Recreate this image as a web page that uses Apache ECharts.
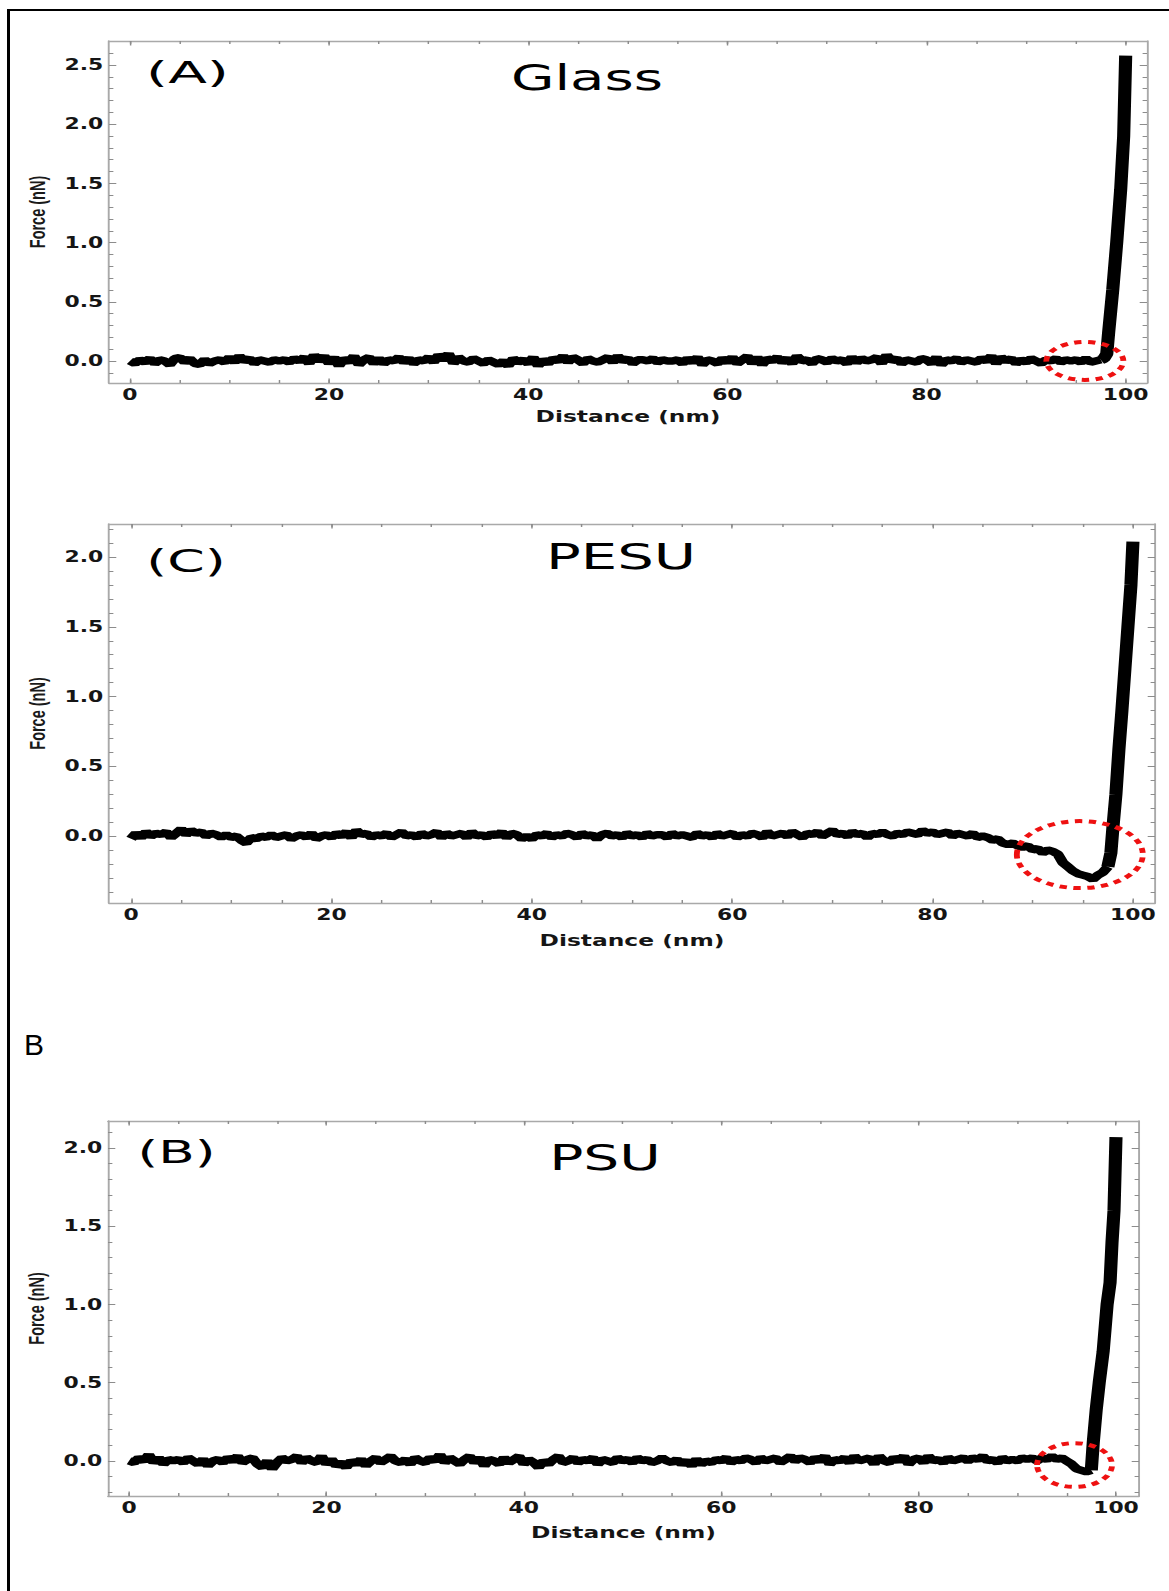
<!DOCTYPE html>
<html><head><meta charset="utf-8">
<script src="https://cdn.jsdelivr.net/npm/echarts@6/dist/echarts.min.js"></script>
<style>
html,body{margin:0;padding:0;background:#fff;width:1169px;height:1591px;overflow:hidden;position:relative;}
#frame{position:absolute;left:7px;top:9px;width:1162px;height:1582px;border-left:3px solid #000;border-top:2px solid #000;box-sizing:border-box;}
#blabel{position:absolute;left:24px;top:1028px;font:30px "Liberation Sans",Arial,sans-serif;color:#000;}
#chart{position:absolute;left:0;top:0;width:801px;height:1591px;transform:scaleX(1.4594);transform-origin:0 0;}
</style></head>
<body>
<div id="frame"></div>
<div id="blabel">B</div>
<div id="chart"></div>
<script>
// ---------------- DATA ----------------
const panelLabels = ['(A)', '(C)', '(B)'];
const panelTitles = ['Glass', 'PESU', 'PSU'];
const xName = 'Distance (nm)';
const yName = 'Force (nN)';

const xMajorTicks = [0, 20, 40, 60, 80, 100];
const xMinorTicks = [0, 5, 10, 15, 20, 25, 30, 35, 40, 45, 50, 55, 60, 65, 70, 75, 80, 85, 90, 95, 100];

const yMajorA = [0.0, 0.5, 1.0, 1.5, 2.0, 2.5];
const yMinorA = [-0.1, 0.0, 0.1, 0.2, 0.3, 0.4, 0.5, 0.6, 0.7, 0.8, 0.9, 1.0, 1.1, 1.2, 1.3, 1.4, 1.5, 1.6, 1.7, 1.8, 1.9, 2.0, 2.1, 2.2, 2.3, 2.4, 2.5, 2.6];
const yMajorC = [0.0, 0.5, 1.0, 1.5, 2.0];
const yMinorC = [-0.4, -0.3, -0.2, -0.1, 0.0, 0.1, 0.2, 0.3, 0.4, 0.5, 0.6, 0.7, 0.8, 0.9, 1.0, 1.1, 1.2, 1.3, 1.4, 1.5, 1.6, 1.7, 1.8, 1.9, 2.0, 2.1, 2.2];
const yMajorB = [0.0, 0.5, 1.0, 1.5, 2.0];
const yMinorB = [-0.2, -0.1, 0.0, 0.1, 0.2, 0.3, 0.4, 0.5, 0.6, 0.7, 0.8, 0.9, 1.0, 1.1, 1.2, 1.3, 1.4, 1.5, 1.6, 1.7, 1.8, 1.9, 2.0, 2.1];

// axis ranges [min, max]
const xRangeA = [-2.1, 102.14], yRangeA = [-0.186, 2.703];
const xRangeC = [-2.2, 102.2],  yRangeC = [-0.48, 2.237];
const xRangeB = [-2.13, 102.33], yRangeB = [-0.224, 2.173];

// baseline force samples, every 0.5 nm starting at 0 nm
const sampleStep = 0.5;
const glassBaseline = [
 0.00,-0.02,0.01,-0.01,0.02,-0.02,0.01,0.00,-0.03,0.02,
 0.03,-0.01,0.02,-0.02,-0.03,0.01,-0.02,0.00,0.01,-0.01,
 0.03,-0.01,0.04,0.00,0.02,-0.02,0.01,0.00,-0.01,0.01,
 0.00,0.01,-0.01,0.02,0.00,0.03,-0.02,0.05,0.00,0.04,
 -0.02,0.03,-0.04,0.02,-0.01,0.04,-0.03,0.01,0.03,-0.02,
 0.02,-0.02,0.01,0.00,0.03,-0.01,0.02,-0.02,0.01,0.00,
 0.03,-0.01,0.05,0.01,0.06,-0.02,0.03,0.00,-0.01,0.02,
 0.00,-0.02,0.01,-0.01,-0.03,0.00,-0.04,0.02,-0.01,0.01,
 -0.02,0.03,-0.04,0.01,-0.02,0.02,0.00,0.04,-0.01,0.03,
 0.01,-0.02,0.02,0.00,-0.01,0.01,0.03,-0.01,0.04,0.00,
 0.02,-0.02,0.01,0.01,0.00,0.02,-0.01,0.01,0.00,0.00,
 0.01,-0.02,0.02,-0.01,0.03,-0.03,0.01,0.00,-0.02,0.02,
 -0.01,0.03,-0.02,0.01,0.04,-0.02,0.03,-0.03,0.02,0.00,
 0.03,-0.01,0.02,-0.02,0.04,0.00,0.01,-0.02,0.02,0.01,
 -0.01,0.02,0.00,0.01,-0.02,0.03,-0.01,0.02,0.00,0.01,
 0.03,-0.02,0.05,0.00,0.02,-0.02,0.01,0.00,-0.01,0.02,
 0.01,-0.02,0.03,-0.03,0.01,0.00,0.02,-0.01,0.01,0.00,
 -0.01,0.02,0.00,0.04,-0.02,0.03,0.00,0.02,-0.02,0.01,
 -0.01,0.02,0.00,-0.02,0.01,0.00,0.02,-0.01,0.01,0.00,
 0.01,-0.01,0.02,-0.01,0.00,0.01
];
const glassRiseX = [97.8, 98.1, 98.3, 98.7, 99.1, 99.5, 99.8, 100.0];
const glassRiseY = [0.02, 0.06, 0.25, 0.60, 1.00, 1.45, 1.90, 2.58];

const pesuBaseline = [
 -0.02,0.02,-0.01,0.03,0.00,0.02,0.01,0.03,-0.01,0.02,
 0.05,0.01,0.04,0.02,0.03,0.00,0.02,0.01,-0.01,0.01,
 -0.01,0.00,-0.03,-0.05,-0.01,-0.02,0.00,-0.01,0.01,-0.01,
 0.00,0.01,-0.02,0.00,0.01,-0.01,0.02,-0.02,0.00,0.01,
 -0.01,0.02,0.00,0.03,-0.01,0.04,0.01,0.02,-0.01,0.01,
 0.00,0.02,-0.01,0.01,0.03,0.00,0.01,-0.01,0.02,0.00,
 0.01,0.03,-0.01,0.02,0.00,0.01,0.02,-0.01,0.03,0.00,
 0.01,-0.01,0.02,0.00,0.03,-0.01,0.02,0.01,-0.02,0.00,
 -0.02,0.01,0.00,0.02,-0.01,0.01,0.00,0.02,0.01,-0.01,
 0.02,0.00,0.01,-0.02,0.01,0.02,0.00,0.01,-0.01,0.02,
 0.00,0.01,-0.01,0.02,0.00,0.01,0.01,-0.01,0.02,0.00,
 0.01,0.00,-0.01,0.02,0.00,0.01,-0.01,0.02,0.00,0.01,
 0.02,-0.01,0.01,0.00,0.02,0.01,-0.01,0.03,0.00,0.01,
 0.02,0.00,0.03,0.01,-0.01,0.02,0.01,0.03,0.00,0.02,
 0.04,0.01,0.02,0.00,0.03,0.01,0.02,-0.01,0.02,0.01,
 0.03,0.01,0.00,0.02,0.01,0.03,0.02,0.01,0.04,0.02,
 0.03,0.01,0.02,0.03,0.00,0.02,0.01,0.00,0.02,-0.01,
 0.00,-0.01,-0.03,-0.02,-0.05,-0.06,-0.05,-0.07,-0.08,-0.07,
 -0.10,-0.09,-0.12,-0.10,-0.11,-0.13,-0.19,-0.22,-0.25,-0.27,
 -0.28,-0.29,-0.31,-0.28,-0.26,-0.22
];
const pesuRiseX = [97.8, 98.0, 98.3, 98.6, 98.9, 99.2, 99.5, 99.8, 100.0];
const pesuRiseY = [-0.12, 0.06, 0.30, 0.62, 0.90, 1.20, 1.50, 1.80, 2.11];

const psuBaseline = [
 0.00,-0.01,0.02,0.00,0.04,-0.01,0.02,-0.02,0.01,0.00,
 0.01,-0.01,0.02,0.00,-0.02,0.01,-0.03,0.00,0.01,-0.01,
 0.02,0.00,0.03,-0.01,0.01,0.02,-0.02,-0.04,0.00,-0.05,
 -0.01,0.02,0.00,0.01,0.03,-0.01,0.02,0.00,-0.01,0.03,
 -0.02,0.01,-0.03,-0.01,-0.04,0.00,-0.02,0.01,-0.03,0.00,
 0.02,-0.01,0.01,0.03,0.00,-0.01,0.01,-0.02,0.02,0.00,
 -0.01,0.02,0.00,0.04,-0.01,0.02,0.00,-0.02,0.01,0.03,
 -0.01,0.02,-0.03,0.01,0.00,-0.02,0.02,-0.01,0.01,0.03,
 -0.02,0.01,-0.01,-0.04,0.00,-0.02,0.01,0.03,-0.01,0.00,
 0.02,-0.01,0.01,0.00,0.02,-0.02,0.01,0.00,-0.01,0.02,
 0.00,0.01,-0.01,0.02,0.00,0.01,-0.01,0.00,0.02,0.00,
 -0.01,0.01,-0.02,0.00,-0.03,0.01,-0.02,0.00,-0.01,0.01,
 0.00,0.02,-0.01,0.01,0.00,0.02,0.01,-0.01,0.02,0.00,
 0.01,0.02,-0.01,0.01,0.03,0.00,0.02,0.01,-0.01,0.02,
 0.00,0.03,-0.02,0.01,0.00,0.02,-0.01,0.03,0.00,0.01,
 0.02,-0.02,0.03,0.00,-0.01,0.02,0.00,0.03,-0.02,0.01,
 0.02,-0.01,0.03,0.00,0.01,-0.01,0.02,0.00,0.01,0.02,
 0.00,0.02,0.01,0.03,0.00,0.01,-0.01,0.02,0.00,0.01,
 0.00,0.02,0.01,0.02,0.00,0.02,0.01,0.03,0.01,0.02,
 0.00,-0.02,-0.05,-0.06,-0.07,-0.06
];
const psuRiseX = [97.7, 98.0, 98.3, 98.7, 99.1, 99.4, 99.6, 99.8, 100.0];
const psuRiseY = [0.12, 0.33, 0.50, 0.70, 1.00, 1.14, 1.40, 1.60, 2.07];

// red dotted ellipses (data units): centre x, centre y, half-width, half-height
const ellipseCx = [95.9, 94.7, 95.8];
const ellipseCy = [0.0, -0.133, -0.026];
const ellipseRx = [3.87, 6.29, 3.80];
const ellipseRy = [0.16, 0.24, 0.14];

// ---------------- LAYOUT ----------------
const S = 1169 / 801;             // horizontal stretch of the original figure
const px = v => v / S;            // page x -> chart x
const FRAME = '#a9a9a9', TICK = '#8c8c8c', LBL = '#151515';

const panels = [
  {left:109, right:1147, top:41,   bottom:383,  xr:xRangeA, yr:yRangeA, yMaj:yMajorA, yMin:yMinorA, gapX:25,
   base:glassBaseline, rx:glassRiseX, ry:glassRiseY,
   lab:{x:187.5, y:72, size:31, sx:1.25}, tit:{x:587, y:78, size:35, sx:1.1}},
  {left:109, right:1155, top:524,  bottom:903,  xr:xRangeC, yr:yRangeC, yMaj:yMajorC, yMin:yMinorC, gapX:29,
   base:pesuBaseline, rx:pesuRiseX, ry:pesuRiseY,
   lab:{x:186, y:561, size:32, sx:1.15}, tit:{x:621, y:557, size:35, sx:1.13}},
  {left:108, right:1139, top:1121, bottom:1496, xr:xRangeB, yr:yRangeB, yMaj:yMajorB, yMin:yMinorB, gapX:28,
   base:psuBaseline, rx:psuRiseX, ry:psuRiseY,
   lab:{x:176.5, y:1151.5, size:32, sx:1.14}, tit:{x:605, y:1158, size:35, sx:1.11}}
];

function baselinePoints(base) {
  return base.map((v, i) => [i * sampleStep, v]);
}
function risePoints(base, riseX, riseY) {
  const pts = [[(base.length - 1) * sampleStep, base[base.length - 1]]];
  riseX.forEach((x, i) => pts.push([x, riseY[i]]));
  return pts;
}

const grids = [], xAxes = [], yAxes = [], series = [];
panels.forEach((p, g) => {
  grids.push({left: px(p.left), top: p.top, width: px(p.right) - px(p.left), height: p.bottom - p.top,
              containLabel: false, outerBoundsMode: 'none', show: false});
  const xCommon = (pos) => ({gridIndex: g, type: 'value', min: p.xr[0], max: p.xr[1], position: pos,
    splitLine: {show: false}, axisPointer: {show: false}, axisLabel: {show: false},
    axisLine: {show: false, onZero: false}, axisTick: {show: false}});
  const yCommon = (pos) => ({gridIndex: g, type: 'value', min: p.yr[0], max: p.yr[1], position: pos,
    splitLine: {show: false}, axisPointer: {show: false}, axisLabel: {show: false},
    axisLine: {show: false, onZero: false}, axisTick: {show: false}});
  const line = {show: true, onZero: false, lineStyle: {color: FRAME, width: 1.3}};
  const tk = (vals, len) => ({show: true, inside: true, length: len, customValues: vals, lineStyle: {color: TICK, width: 1}});

  // x axes
  xAxes.push(Object.assign(xCommon('bottom'), {
    axisLine: line, axisTick: tk(xMinorTicks, 3),
    axisLabel: {show: true, customValues: xMajorTicks, margin: 4, color: LBL,
      fontFamily: 'DejaVu Sans', fontWeight: 'bold', fontSize: 15},
    name: xName, nameLocation: 'middle', nameGap: p.gapX,
    nameTextStyle: {color: LBL, fontFamily: 'DejaVu Sans', fontWeight: 'bold', fontSize: 16}}));
  xAxes.push(Object.assign(xCommon('bottom'), {axisTick: tk(xMajorTicks, 4.5)}));
  xAxes.push(Object.assign(xCommon('top'), {axisLine: line, axisTick: tk(xMinorTicks, 3)}));
  xAxes.push(Object.assign(xCommon('top'), {axisTick: tk(xMajorTicks, 4.5)}));
  // y axes
  yAxes.push(Object.assign(yCommon('left'), {
    axisLine: line, axisTick: tk(p.yMin, 3),
    axisLabel: {show: true, customValues: p.yMaj, margin: 4, color: LBL,
      fontFamily: 'DejaVu Sans', fontWeight: 'bold', fontSize: 15, formatter: v => v.toFixed(1)},
    name: yName, nameLocation: 'middle', nameGap: 40,
    nameTextStyle: {color: '#1a1a1a', fontFamily: 'Liberation Sans', fontWeight: 'bold', fontSize: 14.5}}));
  yAxes.push(Object.assign(yCommon('left'), {axisTick: tk(p.yMaj, 5)}));
  yAxes.push(Object.assign(yCommon('right'), {axisLine: line, axisTick: tk(p.yMin, 3)}));
  yAxes.push(Object.assign(yCommon('right'), {axisTick: tk(p.yMaj, 5)}));

  series.push({type: 'line', xAxisIndex: 4 * g, yAxisIndex: 4 * g, data: baselinePoints(p.base),
    showSymbol: false, symbol: 'none', silent: true, animation: false,
    lineStyle: {color: '#000', width: 7.5, join: 'bevel', cap: 'butt'}});
  series.push({type: 'line', xAxisIndex: 4 * g, yAxisIndex: 4 * g, data: risePoints(p.base, p.rx, p.ry),
    showSymbol: false, symbol: 'none', silent: true, animation: false,
    lineStyle: {color: '#000', width: 9, join: 'bevel', cap: 'butt'}});
});

const chart = echarts.init(document.getElementById('chart'), null, {renderer: 'svg'});
chart.setOption({animation: false, backgroundColor: 'transparent', grid: grids, xAxis: xAxes, yAxis: yAxes, series: series});

// texts and red ellipses
const graphics = [];
panels.forEach((p, g) => {
  graphics.push({type: 'text', x: px(p.lab.x), y: p.lab.y, scaleX: p.lab.sx, z: 50,
    style: {text: panelLabels[g], font: p.lab.size + 'px "DejaVu Sans"', fill: '#000', textAlign: 'center', textVerticalAlign: 'middle'}});
  graphics.push({type: 'text', x: px(p.tit.x), y: p.tit.y, scaleX: p.tit.sx, z: 50,
    style: {text: panelTitles[g], font: p.tit.size + 'px "DejaVu Sans"', fill: '#000', textAlign: 'center', textVerticalAlign: 'middle'}});
  const f = {xAxisIndex: 4 * g, yAxisIndex: 4 * g};
  const c = chart.convertToPixel(f, [ellipseCx[g], ellipseCy[g]]);
  const e = chart.convertToPixel(f, [ellipseCx[g] + ellipseRx[g], ellipseCy[g] + ellipseRy[g]]);
  graphics.push({type: 'ellipse', z: 60, silent: true,
    shape: {cx: c[0], cy: c[1], rx: Math.abs(e[0] - c[0]), ry: Math.abs(e[1] - c[1])},
    style: {fill: 'none', stroke: '#ee1111', lineWidth: 4, lineDash: [5, 4.5]}});
});
chart.setOption({graphic: graphics});
</script>
</body></html>
